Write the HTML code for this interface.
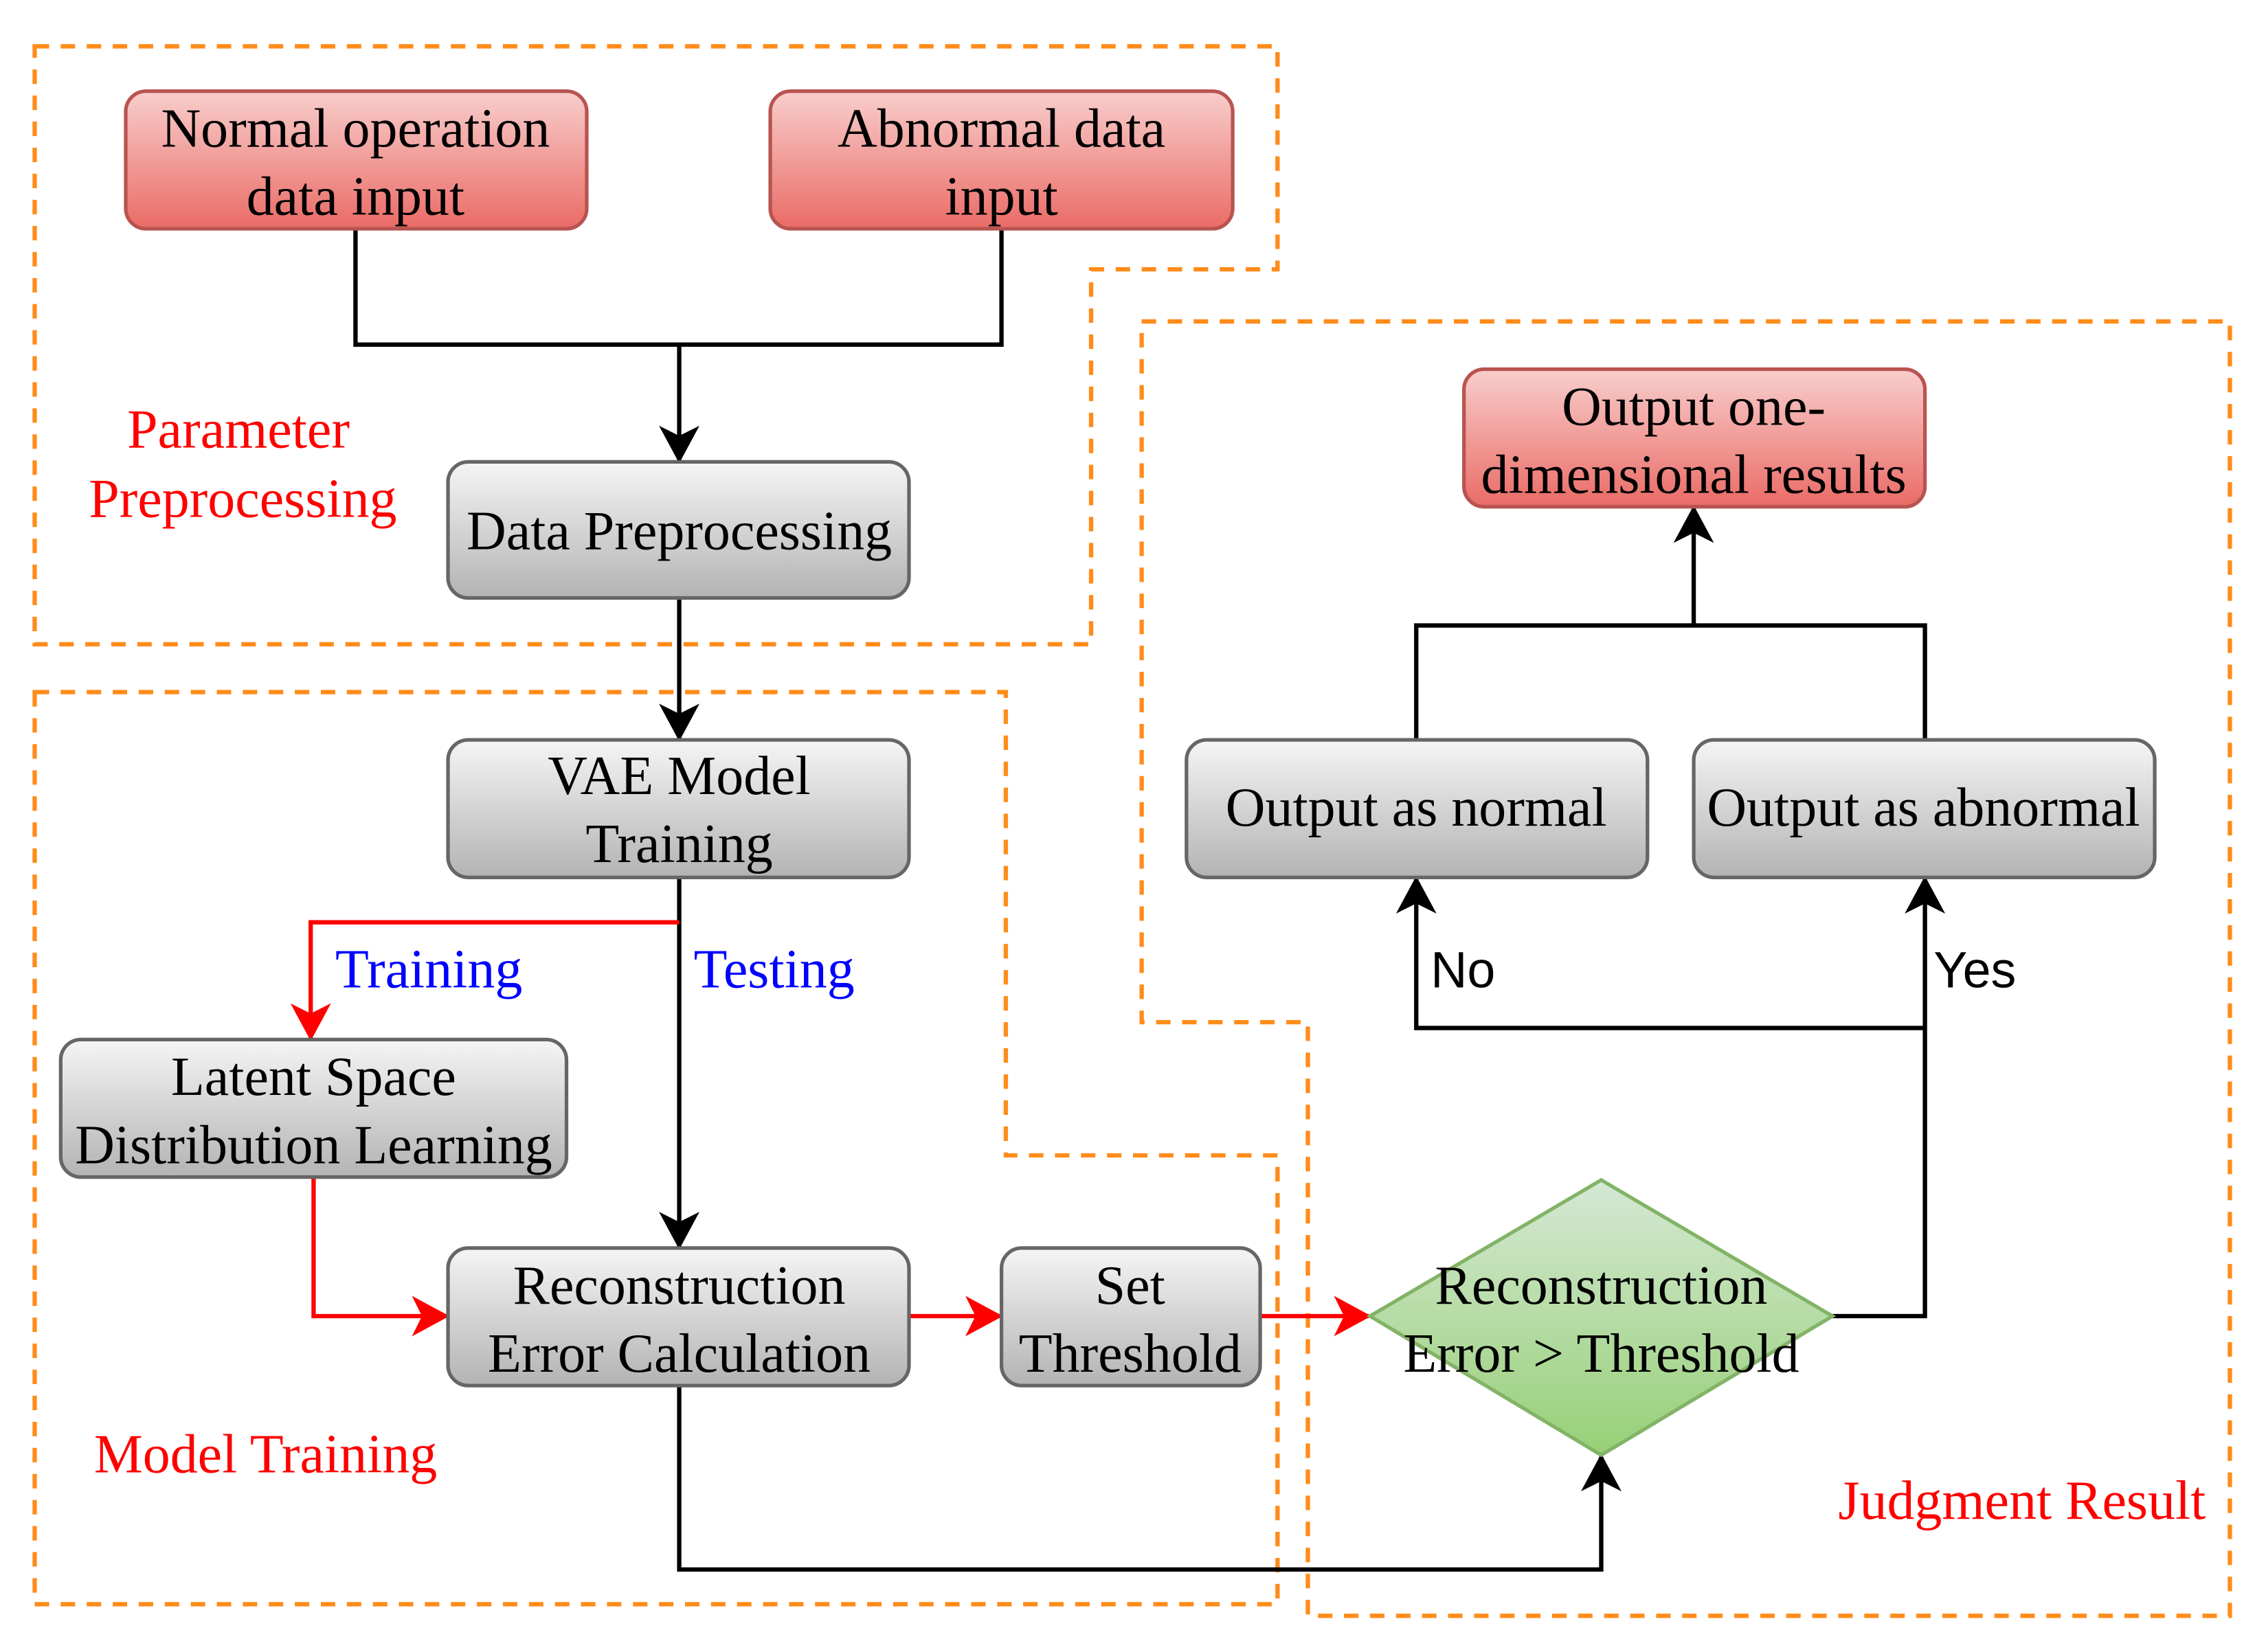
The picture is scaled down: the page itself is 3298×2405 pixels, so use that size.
<!DOCTYPE html>
<html><head><meta charset="utf-8"><style>
html,body{margin:0;padding:0;background:#fff;}
svg{display:block;}
.t{font-family:"Liberation Serif",serif;font-size:38px;fill:#000;text-anchor:middle;dominant-baseline:central;}
.r{font-family:"Liberation Serif",serif;font-size:38px;fill:#ff0000;}
.b{font-family:"Liberation Serif",serif;font-size:38px;fill:#0000ff;}
.s{font-family:"Liberation Sans",sans-serif;font-size:35px;fill:#000;}
</style></head><body>
<svg width="3298" height="2405" viewBox="0 0 1568 1141" preserveAspectRatio="none" xmlns="http://www.w3.org/2000/svg">
<defs>
<linearGradient id="gg" x1="0" y1="0" x2="0" y2="1"><stop offset="0" stop-color="#f5f5f5"/><stop offset="1" stop-color="#b3b3b3"/></linearGradient>
<linearGradient id="rg" x1="0" y1="0" x2="0" y2="1"><stop offset="0" stop-color="#f8cecc"/><stop offset="1" stop-color="#ea6b66"/></linearGradient>
<linearGradient id="eg" x1="0" y1="0" x2="0" y2="1"><stop offset="0" stop-color="#d5e8d4"/><stop offset="1" stop-color="#97d077"/></linearGradient>
<marker id="ak" viewBox="0 0 26 28" refX="24" refY="14" markerWidth="26" markerHeight="28" markerUnits="userSpaceOnUse" orient="auto"><path d="M0,0 L26,14 L0,28 L7,14 Z" fill="#000"/></marker>
<marker id="ar" viewBox="0 0 26 28" refX="24" refY="14" markerWidth="26" markerHeight="28" markerUnits="userSpaceOnUse" orient="auto"><path d="M0,0 L26,14 L0,28 L7,14 Z" fill="#ff0000"/></marker>
</defs>

<g fill="none" stroke="#ff8c1a" stroke-width="3" stroke-dasharray="10,8">
<path d="M24,32 L884,32 L884,186 L755,186 L755,445 L24,445 Z"/>
<path d="M24,478 L696,478 L696,798 L884,798 L884,1108 L24,1108 Z"/>
<path d="M790,222 L1543,222 L1543,1116 L905,1116 L905,706 L790,706 Z"/>
</g>

<g fill="none" stroke="#000" stroke-width="3">
<path d="M246,158 L246,238 L693,238 L693,158"/>
<path d="M470,238 L470,318" marker-end="url(#ak)"/>
<path d="M470,413 L470,510" marker-end="url(#ak)"/>
<path d="M470,606 L470,861" marker-end="url(#ak)"/>
<path d="M470,957 L470,1084 L1108,1084 L1108,1006" marker-end="url(#ak)"/>
<path d="M1268,909 L1332,909 L1332,607" marker-end="url(#ak)"/>
<path d="M1332,710 L980,710 L980,607" marker-end="url(#ak)"/>
<path d="M980,511 L980,432 L1332,432 L1332,511"/>
<path d="M1172,432 L1172,351" marker-end="url(#ak)"/>
</g>
<g fill="none" stroke="#ff0000" stroke-width="3">
<path d="M470,637 L215,637 L215,717" marker-end="url(#ar)"/>
<path d="M217,813 L217,909 L309,909" marker-end="url(#ar)"/>
<path d="M629,909 L692,909" marker-end="url(#ar)"/>
<path d="M872,909 L947,909" marker-end="url(#ar)"/>
</g>

<g stroke-width="2.5">
<rect x="87" y="63" width="319" height="95" rx="14" fill="url(#rg)" stroke="#b85450"/>
<rect x="533" y="63" width="320" height="95" rx="14" fill="url(#rg)" stroke="#b85450"/>
<rect x="1013" y="255" width="319" height="95" rx="14" fill="url(#rg)" stroke="#b85450"/>
<rect x="310" y="319" width="319" height="94" rx="14" fill="url(#gg)" stroke="#666"/>
<rect x="310" y="511" width="319" height="95" rx="14" fill="url(#gg)" stroke="#666"/>
<rect x="42" y="718" width="350" height="95" rx="14" fill="url(#gg)" stroke="#666"/>
<rect x="310" y="862" width="319" height="95" rx="14" fill="url(#gg)" stroke="#666"/>
<rect x="693" y="862" width="179" height="95" rx="14" fill="url(#gg)" stroke="#666"/>
<rect x="821" y="511" width="319" height="95" rx="14" fill="url(#gg)" stroke="#666"/>
<rect x="1172" y="511" width="319" height="95" rx="14" fill="url(#gg)" stroke="#666"/>
<path d="M1108,815 L1268,909 L1108,1005 L948,909 Z" fill="url(#eg)" stroke="#82b366"/>
</g>

<text class="t" x="246" y="89">Normal operation</text>
<text class="t" x="246" y="136">data input</text>
<text class="t" x="693" y="89">Abnormal data</text>
<text class="t" x="693" y="136">input</text>
<text class="t" x="1172" y="281">Output one-</text>
<text class="t" x="1172" y="328">dimensional results</text>
<text class="t" x="470" y="367">Data Preprocessing</text>
<text class="t" x="470" y="536">VAE Model</text>
<text class="t" x="470" y="583">Training</text>
<text class="t" x="217" y="744">Latent Space</text>
<text class="t" x="217" y="791">Distribution Learning</text>
<text class="t" x="470" y="888">Reconstruction</text>
<text class="t" x="470" y="935">Error Calculation</text>
<text class="t" x="782" y="888">Set</text>
<text class="t" x="782" y="935">Threshold</text>
<text class="t" x="980" y="558">Output as normal</text>
<text class="t" x="1331" y="558">Output as abnormal</text>
<text class="t" x="1108" y="888">Reconstruction</text>
<text class="t" x="1108" y="935">Error &gt; Threshold</text>

<text class="r" x="165" y="309" text-anchor="middle">Parameter</text>
<text class="r" x="168" y="357" text-anchor="middle">Preprocessing</text>
<text class="b" x="232" y="682">Training</text>
<text class="b" x="480" y="682">Testing</text>
<text class="s" x="990" y="682">No</text>
<text class="s" x="1338" y="682">Yes</text>
<text class="r" x="65" y="1017">Model Training</text>
<text class="r" x="1272" y="1049">Judgment Result</text>
</svg>
</body></html>
